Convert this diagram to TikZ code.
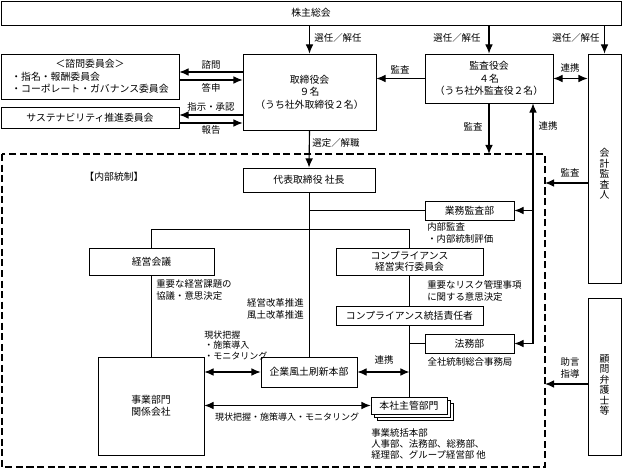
\documentclass[tikz,border=0pt]{standalone}
\usepackage{fontspec}
\newfontfamily\jp{Noto Sans CJK JP}
\usetikzlibrary{arrows.meta,shadows}

\begin{document}
\begin{tikzpicture}[x=0.025cm,y=-0.025cm,
  >={Latex[length=6.5pt,width=5.5pt]},
  every node/.style={font=\jp\fontsize{7}{8.9}\selectfont},
  bx/.style 2 args={draw,line width=0.6pt,inner sep=0pt,align=center,
    minimum width=#1*0.025cm,minimum height=#2*0.025cm},
  vt/.style={inner sep=0pt,align=center,font=\jp\fontsize{7}{7.4}\selectfont},
  lb/.style={inner sep=0pt,align=center,font=\jp\fontsize{6.7}{8.6}\selectfont},
  sm/.style={inner sep=0pt,align=left,font=\jp\fontsize{6.4}{7.6}\selectfont},
  ln/.style={line width=0.6pt},
  arr/.style={->,line width=0.8pt},
  arrb/.style={<->,line width=0.8pt},
  dsh/.style={line width=0.9pt,dash pattern=on 5pt off 2.5pt}]
\useasboundingbox (0,0) rectangle (622,471);

% boxes
\node[bx={620}{24}] (kabu) at (311,13) {株主総会};
\node[bx={133}{76}] (torishimari) at (309.5,92) {取締役会\\９名\\（うち社外取締役２名）};
\node[bx={128}{49}] (kansa) at (489,78.5) {監査役会\\４名\\（うち社外監査役２名）};
\node[bx={33}{229}] (kaikei) at (604.5,168.5) {};
\node[vt] (kaikeit) at (604.5,174) {会\\計\\監\\査\\人};
\node[bx={178}{45},align=left] (shimon) at (90,76.5) {\hspace*{4.5em}＜諮問委員会＞\\・指名・報酬委員会\\・コーポレート・ガバナンス委員会};
\node[bx={178}{21}] (susu) at (90,117.5) {サステナビリティ推進委員会};
\node[bx={33}{157}] (komon) at (604.5,376.5) {};
\node[vt] (komont) at (604.5,385) {顧\\問\\弁\\護\\士\\等};

% internal control
\coordinate (icnw) at (2,154);
\coordinate (icse) at (545,467);
\draw[dsh] (icnw) rectangle (icse);
\node (naibu) at (114,177) {【内部統制】};
\node[bx={132}{24}] (daihyo) at (309,180) {代表取締役 社長};
\node[bx={89}{19}] (gyomu) at (469.5,210.5) {業務監査部};
\node[bx={125}{27}] (keiei) at (151.5,261.5) {経営会議};
\node[bx={147}{27},font=\jp\fontsize{7}{7.8}\selectfont] (cjikko) at (409.5,261.5) {コンプライアンス\\経営実行委員会};
\node[bx={147}{19}] (csekinin) at (409.5,315.5) {コンプライアンス統括責任者};
\node[bx={89}{19}] (homu) at (469.5,343.5) {法務部};
\node[bx={96}{30}] (fudo) at (309,372) {企業風土刷新本部};
\node[bx={106}{98}] (jigyo) at (151,406) {事業部門\\関係会社};
\node[bx={76}{17},fill=white,double copy shadow={shadow xshift=2.2pt,shadow yshift=-2.2pt}] (honsha) at (409,405.5) {本社主管部門};

% top connectors
\draw[arr] (torishimari.north |- kabu.south) -- (torishimari.north);
\node[lb] (sen1) at (338,38) {選任／解任};
\draw[arr] (kansa.north |- kabu.south) -- (kansa.north);
\node[lb] (sen2) at (457,38) {選任／解任};
\draw[arr] (kaikei.north |- kabu.south) -- (kaikei.north);
\node[lb] (sen3) at (576,38) {選任／解任};

\draw[arr] (torishimari.west |- 0,72) -- (shimon.east |- 0,72);
\node[lb] (shimonl) at (211,65) {諮問};
\draw[arr] (shimon.east |- 0,80) -- (torishimari.west |- 0,80);
\node[lb] (toshin) at (211,88) {答申};
\draw[arr] (torishimari.west |- 0,115) -- (susu.east |- 0,115);
\node[lb] (shiji) at (211,107) {指示・承認};
\draw[arr] (susu.east |- 0,123) -- (torishimari.west |- 0,123);
\node[lb] (hokoku) at (211,130) {報告};

\draw[arr] (kansa.west) -- (kansa.west -| torishimari.east);
\node[lb] (kansa1) at (400,70) {監査};
\draw[arrb] (kansa.east) -- (kansa.east -| kaikei.west);
\node[lb] (renkei1) at (570,68) {連携};
\draw[arr] (torishimari.south) -- (daihyo.north);
\node[lb] (sentei) at (336,143) {選定／解職};
\draw[arr] (kansa.south) -- (kansa.south |- icnw);
\node[lb] (kansa2) at (473,127) {監査};

% renkei line on the right
\coordinate (rk) at (533,343.5);
\draw[arr] (rk) -- (rk |- kansa.south);
\node[lb] (renkei2) at (548,126) {連携};
\draw[arr] (rk |- gyomu.east) -- (gyomu.east);
\draw[arr] (rk) -- (homu.east);

\draw[arr] (kaikei.west |- 0,183) -- (icse |- 0,183);
\node[lb] (kansa3) at (570,173) {監査};
\draw[arr] (komon.west |- 0,384) -- (icse |- 0,384);
\node[lb] (jogen) at (570,368) {助言\\指導};

% inside
\draw[ln] (daihyo.south) -- (fudo.north);
\draw[ln] (daihyo.south |- gyomu.west) -- (gyomu.west);
\draw[ln] (keiei.north) -- (keiei.north |- 0,229) -- (cjikko.north |- 0,229) -- (cjikko.north);
\draw[ln] (keiei.south) -- (keiei.south |- jigyo.north);
\draw[ln] (cjikko.south) -- (csekinin.north);
\draw[ln] (csekinin.south) -- (csekinin.south |- honsha.north);
\draw[ln] (csekinin.south |- homu.west) -- (homu.west);
\draw[arrb] (fudo.east) -- (fudo.east -| csekinin.south);
\draw[arrb] (jigyo.east |- fudo.west) -- (fudo.west);
\draw[arrb] (jigyo.east |- honsha.west) -- (honsha.west);

\node[lb,align=left,anchor=west] (naibukansa) at (427,233) {内部監査\\・内部統制評価};
\node[lb,align=left,anchor=west] (juyo1) at (156,289.5) {重要な経営課題の\\協議・意思決定};
\node[lb,align=right,anchor=east] (kaikaku) at (304,309) {経営改革推進\\風土改革推進};
\node[lb,align=left,anchor=west] (juyo2) at (427,290.5) {重要なリスク管理事項\\に関する意思決定};
\node[sm,anchor=west] (genjo1) at (204,345.5) {現状把握\\・施策導入\\・モニタリング};
\node[lb] (renkei3) at (384,360) {連携};
\node[lb] (zensha) at (470,362) {全社統制総合事務局};
\node[sm] (genjo2) at (287,417) {現状把握・施策導入・モニタリング};
\node[sm,anchor=west,font=\jp\fontsize{6.7}{8}\selectfont] (tokatsu) at (371,444) {事業統括本部\\人事部、法務部、総務部、\\経理部、グループ経営部 他};
\end{tikzpicture}
\end{document}
